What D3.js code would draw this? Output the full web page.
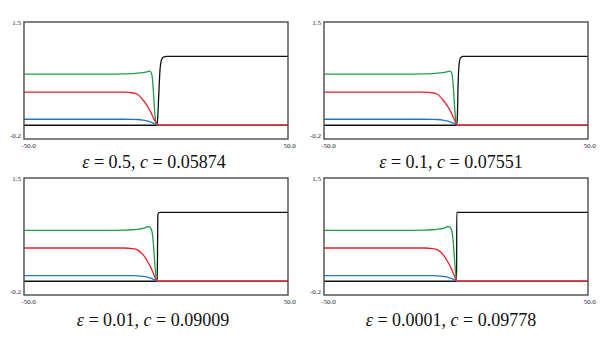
<!DOCTYPE html>
<html>
<head>
<meta charset="utf-8">
<script src="https://cdn.jsdelivr.net/npm/d3@7"></script>
<style>
html,body{margin:0;padding:0;background:#fff;}
svg{display:block;}
</style>
</head>
<body>
<svg id="chart" width="612" height="341"></svg>
<script>
// ---- data ----
const epsilons = ["0.5", "0.1", "0.01", "0.0001"];
const speeds = ["0.05874", "0.07551", "0.09009", "0.09778"];
const xDomain = [-50, 50];
const yDomain = [-0.2, 1.5];
const xTickLabels = ["-50.0", "50.0"];
const yTickLabels = ["-0.2", "1.5"];

// panel 1 : eps = 0.5
const p1Green = [[-50,0.742],[-20,0.742],[-12,0.745],[-9,0.75],[-7,0.756],[-5,0.765],[-4,0.772],[-3,0.782],[-2.5,0.786],[-2,0.775],[-1.5,0.72],[-1,0.5],[-0.5,0.2],[0,0.03],[0.5,0],[1,0],[50,0]];
const p1Red = [[-50,0.48],[-12,0.48],[-9,0.472],[-7,0.45],[-5,0.37],[-4,0.32],[-3,0.26],[-2.5,0.225],[-2,0.19],[-1.5,0.15],[-1,0.11],[-0.5,0.07],[0,0.035],[0.5,0.01],[1,0],[50,0]];
const p1Blue = [[-50,0.087],[-12,0.087],[-9,0.086],[-7,0.083],[-5,0.075],[-4,0.068],[-3,0.058],[-2,0.045],[-1,0.03],[0,0.015],[0.5,0.008],[1,0.003],[1.5,0],[50,0]];
const p1Black = [[-50,0],[0,0],[0.3,0.005],[0.6,0.08],[1,0.4],[1.5,0.8],[2,0.94],[2.5,0.98],[3,0.995],[4,1.0],[50,1.0]];

// panel 2 : eps = 0.1
const p2Green = [[-50,0.742],[-20,0.742],[-12,0.745],[-9,0.75],[-7,0.756],[-5,0.765],[-4,0.772],[-3,0.782],[-2.5,0.786],[-2,0.78],[-1.5,0.74],[-1,0.55],[-0.5,0.25],[0,0.04],[0.4,0],[1,0],[50,0]];
const p2Red = [[-50,0.48],[-12,0.48],[-9,0.472],[-7,0.45],[-5,0.37],[-4,0.32],[-3,0.265],[-2.5,0.23],[-2,0.195],[-1.5,0.155],[-1,0.115],[-0.5,0.07],[0,0.025],[0.4,0],[50,0]];
const p2Blue = [[-50,0.087],[-12,0.087],[-9,0.086],[-7,0.083],[-5,0.075],[-4,0.068],[-3,0.058],[-2,0.045],[-1,0.03],[0,0.01],[0.4,0],[50,0]];
const p2Black = [[-50,0],[0.2,0],[0.5,0.1],[0.8,0.6],[1,0.8],[1.5,0.96],[2,0.99],[2.5,1.0],[50,1.0]];

// panel 3 : eps = 0.01
const p3Green = [[-50,0.74],[-20,0.74],[-12,0.743],[-9,0.748],[-7,0.755],[-5,0.767],[-4,0.778],[-3.2,0.795],[-2.5,0.79],[-2,0.77],[-1.5,0.72],[-1,0.55],[-0.5,0.28],[0,0.06],[0.3,0],[1,0],[50,0]];
const p3Red = [[-50,0.483],[-12,0.483],[-9,0.475],[-7,0.455],[-5,0.39],[-4,0.34],[-3,0.275],[-2.5,0.24],[-2,0.2],[-1.5,0.16],[-1,0.115],[-0.5,0.065],[0,0.02],[0.3,0],[50,0]];
const p3Blue = [[-50,0.082],[-12,0.082],[-9,0.081],[-7,0.079],[-5,0.072],[-4,0.066],[-3,0.057],[-2,0.044],[-1,0.028],[0,0.008],[0.3,0],[50,0]];
const p3Black = [[-50,0],[0.45,0],[0.55,0.3],[0.65,0.8],[0.75,0.97],[1,0.995],[1.5,1.0],[50,1.0]];

// panel 4 : eps = 0.0001
const p4Green = [[-50,0.74],[-20,0.74],[-12,0.743],[-9,0.748],[-7,0.755],[-5,0.767],[-4,0.778],[-3.2,0.795],[-2.5,0.79],[-2,0.77],[-1.5,0.72],[-1,0.55],[-0.5,0.28],[0,0.06],[0.27,0],[1,0],[50,0]];
const p4Red = [[-50,0.483],[-12,0.483],[-9,0.475],[-7,0.455],[-5,0.39],[-4,0.34],[-3,0.275],[-2.5,0.24],[-2,0.2],[-1.5,0.16],[-1,0.115],[-0.5,0.065],[0,0.02],[0.27,0],[50,0]];
const p4Blue = [[-50,0.082],[-12,0.082],[-9,0.081],[-7,0.079],[-5,0.072],[-4,0.066],[-3,0.057],[-2,0.044],[-1,0.028],[0,0.008],[0.27,0],[50,0]];
const p4Black = [[-50,0],[0.25,0],[0.27,1.0],[50,1.0]];

const panelSeries = [
  [p1Black, p1Blue, p1Green, p1Red],
  [p2Black, p2Blue, p2Green, p2Red],
  [p3Black, p3Blue, p3Green, p3Red],
  [p4Black, p4Blue, p4Green, p4Red]
];

// ---- layout / style ----
const seriesColors = ["#111111", "#1f77c4", "#1f9e4b", "#e8202a"];
const layout = [
  {left: 24, top: 22, titleX: 154, titleY: 168},
  {left: 324, top: 22, titleX: 451, titleY: 168},
  {left: 24, top: 178, titleX: 153, titleY: 326},
  {left: 324, top: 178, titleX: 451, titleY: 326}
];
const W = 264, H = 117;

const svg = d3.select("#chart");

layout.forEach((L, i) => {
  const g = svg.append("g").attr("transform", `translate(${L.left},${L.top})`);
  const x = d3.scaleLinear().domain(xDomain).range([0, W]);
  const y = d3.scaleLinear().domain(yDomain).range([H, 0]);

  const line = d3.line()
    .x(d => x(d[0]))
    .y(d => y(d[1]))
    .curve(d3.curveMonotoneX);

  panelSeries[i].forEach((s, k) => {
    g.append("path")
      .datum(s)
      .attr("fill", "none")
      .attr("stroke", seriesColors[k])
      .attr("stroke-width", 1.3)
      .attr("d", line);
  });

  // frame
  g.append("rect")
    .attr("x", 0).attr("y", 0).attr("width", W).attr("height", H)
    .attr("fill", "none").attr("stroke", "#4a4a4a").attr("stroke-width", 1.4);

  // y tick labels
  const yAxis = d3.axisLeft(y).tickValues(yDomain).tickSize(0).tickPadding(3)
    .tickFormat((d, j) => yTickLabels[j]);
  const ya = g.append("g").call(yAxis);
  ya.select(".domain").remove();
  ya.selectAll("text")
    .attr("font-family", "Liberation Serif, serif")
    .attr("font-size", 7)
    .attr("fill", "#1c1c3c")
    .attr("dy", (d, j) => j === 0 ? "-0.2em" : "0.4em");

  // x tick labels
  const xAxis = d3.axisBottom(x).tickValues(xDomain).tickSize(0).tickPadding(4)
    .tickFormat((d, j) => xTickLabels[j]);
  const xa = g.append("g").attr("transform", `translate(0,${H})`).call(xAxis);
  xa.select(".domain").remove();
  xa.selectAll("text")
    .attr("font-family", "Liberation Serif, serif")
    .attr("font-size", 7)
    .attr("fill", "#1c1c3c")
    .attr("dx", (d, j) => j === 0 ? 4 : 1);

  // title
  const t = svg.append("text")
    .attr("x", L.titleX).attr("y", L.titleY)
    .attr("text-anchor", "middle")
    .attr("font-family", "Liberation Serif, serif")
    .attr("font-size", 18)
    .attr("fill", "#111");
  t.append("tspan").attr("font-style", "italic").text("ε");
  t.append("tspan").text(" = " + epsilons[i] + ", ");
  t.append("tspan").attr("font-style", "italic").text("c");
  t.append("tspan").text(" = " + speeds[i]);
});
</script>
</body>
</html>
